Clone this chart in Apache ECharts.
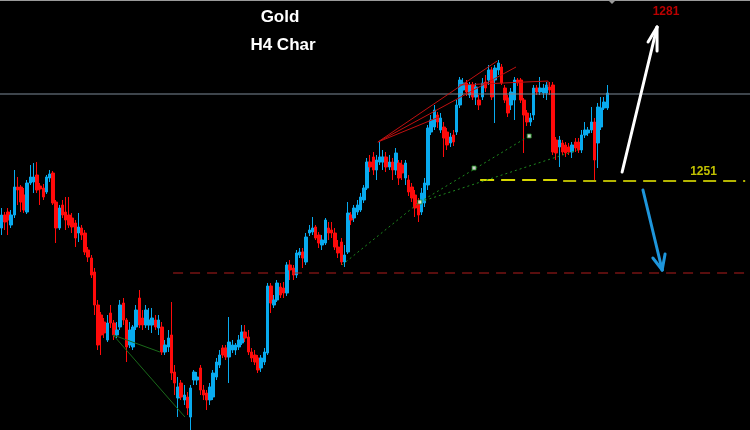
<!DOCTYPE html>
<html>
<head>
<meta charset="utf-8">
<script src="https://cdn.jsdelivr.net/npm/echarts@6/dist/echarts.min.js"></script>
<style>html,body{margin:0;padding:0;background:#000;}#c{width:750px;height:430px;}</style>
</head>
<body>
<div id="c"></div>
<script>
// Gold H4 candles: [open, close, low, high]
const ohlc = [
[1241.4,1244,1240,1245.4],[1244,1242.6,1241,1244.6],[1244.6,1243,1240,1245.4],[1242,1244,1241.4,1245],
[1244,1249.6,1243.4,1253],[1249.6,1249,1246,1251.6],[1249.6,1246.6,1244.6,1250],[1248,1245,1244.4,1249.4],
[1244.6,1250.4,1244.2,1251],[1250.4,1251.6,1250,1254],[1250.6,1251.6,1248.4,1254.4],[1252,1249,1248.4,1254.6],
[1249.8,1249.2,1246,1250.4],[1249.4,1247.6,1247,1250.2],[1248.6,1251.6,1248.2,1252],[1251.4,1252.2,1250.6,1253],
[1252.4,1246.4,1246,1252.8],[1246.6,1241.4,1238.4,1247],[1241.4,1245.4,1241,1246],[1246,1244,1243.4,1247],
[1244.6,1243,1241,1247.6],[1244,1242,1241.4,1247.6],[1243.4,1241.6,1240.4,1244.4],[1242.4,1239.4,1237.6,1243],
[1240.4,1241.6,1238.6,1244.4],[1241.4,1240,1239,1242],[1240.4,1236.6,1236,1241],[1237,1235.6,1234.6,1237.6],
[1235.4,1232,1231.4,1236],[1232.6,1226,1224,1233.4],[1226,1218,1217,1227],[1224,1220,1216,1224.6],
[1222.6,1220.4,1219.4,1223.4],[1219,1222.4,1218.6,1224],[1224.4,1222.4,1221.4,1226],[1222.4,1220,1219,1223],
[1220,1221,1219.4,1222.6],[1221.6,1226,1221,1227],[1226.4,1223,1222,1227.4],[1223,1217.6,1214.6,1223.4],
[1218,1221,1217.4,1222.6],[1217.6,1221.6,1217,1222],[1221.6,1225,1221,1226],[1227.4,1222,1221.4,1229],
[1223.4,1222,1221,1225],[1222,1225,1221.4,1226],[1222,1223,1221,1225.4],[1222,1223.4,1220.4,1225.4],
[1223,1221.6,1221,1224],[1221.4,1223,1220,1224],[1221.6,1216.6,1216,1222.6],[1216.6,1218,1216,1219],
[1217.6,1219.4,1216.6,1221],[1220,1212.4,1211,1226.6],[1212.6,1210.4,1208,1214],[1207.4,1209.6,1203.6,1211.6],
[1210.4,1207.6,1207,1211],[1207,1208,1206,1210],[1207.6,1205.4,1204,1208.6],[1203.6,1209.4,1201,1210],
[1211,1212.6,1210,1213],[1211,1211.6,1210,1212.6],[1213.4,1209,1208,1214],[1209,1208,1207,1210],
[1208.4,1207,1205,1209],[1207,1209.6,1206,1210.4],[1207.6,1212.4,1207,1213],[1211.6,1214.6,1211,1215.4],
[1214,1216,1213.4,1217],[1217.4,1216,1215.4,1218],[1217.4,1215.6,1215,1218],[1215.6,1218.6,1210.4,1223.6],
[1217,1218,1216.4,1219],[1217,1218,1216,1218.4],[1217.6,1219,1217,1220],[1218.4,1220.6,1218,1222],
[1220.6,1219.4,1218.6,1222],[1219.6,1216.6,1216,1221],[1216.6,1215.4,1214.6,1217.4],[1216,1214.6,1214,1217],
[1215.4,1213,1212.4,1216],[1213.4,1215.4,1212.6,1216],[1214.6,1216.6,1214,1217.4],[1216.4,1229.8,1216,1230.4],
[1229.8,1226.4,1224.4,1230.4],[1226,1227,1225.4,1228],[1227,1230.4,1226.6,1231],[1229.6,1228,1227.4,1230.4],
[1229.4,1228.4,1227.4,1230.6],[1228.4,1234,1227.8,1234.6],[1234,1233,1231,1235],[1233.4,1232,1231,1234],
[1232,1236.4,1231.4,1237],[1236,1236.6,1235.4,1237.4],[1236.6,1235.4,1233.4,1237.4],[1234.6,1239.6,1234,1240.4],
[1240.4,1241,1239.8,1242],[1240.6,1241.4,1240,1243.6],[1241.6,1239.4,1239,1242],[1240,1238.4,1237.4,1240.6],
[1238,1239,1237,1240],[1238.4,1243,1238,1243.4],[1241.4,1240.4,1239,1242.6],[1241,1240.4,1239.4,1242.6],
[1240.4,1237.6,1237,1241.4],[1237.6,1236.4,1235.4,1239],[1238.6,1234.6,1234,1239.4],[1234.6,1236,1233.6,1238],
[1236.6,1244.4,1236.2,1246.6],[1244,1243,1242,1244.6],[1243.4,1245.4,1242.6,1246],[1244.6,1246,1244,1247],
[1245,1247.6,1244.6,1248.4],[1247,1249.4,1246.4,1250],[1249.4,1254.6,1249,1255.4],[1254.6,1253.6,1252.6,1256],
[1255.6,1253,1252,1256.6],[1253,1255,1251,1256],[1254.6,1255.6,1254,1258.6],[1254.6,1255.6,1253,1257],
[1255.6,1253.6,1252.6,1256.6],[1253.6,1254.6,1253,1256],[1254.6,1253,1251,1255.4],[1253,1256.4,1252,1257.4],
[1254.4,1251.4,1250,1255],[1254,1252.4,1251,1255],[1251.4,1254.4,1250,1255],[1251,1248.6,1247.8,1252],
[1249.6,1247.4,1246.6,1250.4],[1248,1245.4,1243.6,1249],[1246.4,1244,1242.6,1247.4],[1244.6,1248.4,1244,1249.4],
[1246.4,1250.4,1245.6,1251.4],[1250,1261.4,1249,1262],[1260.6,1263,1260,1264],[1261.6,1265,1261,1266],
[1264,1262.6,1261.4,1264.6],[1261,1263.4,1260.4,1264.4],[1261.6,1259.4,1255.6,1262.6],[1260.6,1258,1257,1261.4],
[1258.4,1259.6,1257.6,1260.4],[1260,1258.6,1257.8,1261],[1260.6,1266,1260,1267],[1266,1271,1265.4,1271.6],
[1269,1270.4,1268,1271.4],[1270.4,1268.6,1267.8,1271],[1268,1270,1267.4,1270.6],[1270,1267.6,1267,1270.6],
[1267.6,1269.6,1266,1270.4],[1267,1266,1265,1268],[1267.6,1270.4,1267,1271.4],[1270.6,1269.4,1268.6,1272],
[1271,1273,1270,1274],[1273,1267.6,1267,1273.6],[1271,1273.4,1262.4,1274],[1273,1274.4,1272,1275],
[1273.6,1270.4,1270,1274.2],[1269.4,1267,1266.4,1270],[1267.4,1264.4,1263.6,1268],[1266,1268.6,1265,1269.4],
[1267,1271,1263,1271.6],[1271,1270.4,1269.8,1271.4],[1271,1267,1266.4,1271.4],[1267,1264,1256.4,1267.4],
[1264.4,1262.6,1261.8,1265],[1262.6,1263.4,1261.8,1264.4],[1264,1269.4,1263,1270],[1269.4,1268.6,1268,1270],
[1268.6,1269.4,1268,1271.6],[1268.4,1269.4,1267.4,1270.2],[1268.4,1270,1267,1270.6],[1269.6,1269,1268,1270.6],
[1270,1256.6,1256,1270.6],[1259,1256.4,1255,1259.6],[1257.6,1259,1253.6,1259.8],[1258.4,1256.6,1256,1259],
[1258,1256.4,1255.6,1258.6],[1257.6,1256.6,1256,1258.4],[1256.6,1258,1255.4,1258.6],[1258.6,1257.4,1256.6,1259.4],
[1258.6,1257,1256.4,1259.4],[1257,1260,1256.4,1261],[1260,1261,1259.4,1262.6],[1260.4,1261,1259.8,1261.6],
[1261,1262.6,1260.4,1265.6],[1262.6,1255,1251,1263.4],[1258.4,1265.6,1253.4,1266.4],[1261.6,1265.4,1261,1267.6],
[1265.4,1266.6,1265,1267.6],[1265.4,1268.4,1265,1270]
];
const slotCount = 234;               // candle slots across the window (incl. empty future space)
const categories = Array.from({length: slotCount}, (_, i) => String(i));

// annotation levels and drawings [slotIndex, price]
const grayLevel = 1268.2;
const redDashLine = [[53.5,1232.4],[232,1232.4]];
const yellowLineA = [[149.3,1251],[175.2,1251]];
const yellowLineB = [[175.2,1250.8],[232,1250.8]];
const redFan = [
  [[117.4,1258.6],[154.6,1274.8]],
  [[117.4,1258.6],[160.5,1273.6]],
  [[117.4,1258.6],[136.5,1263.6]],
  [[142.7,1270],[170.5,1270.8]],
  [[170.5,1270.8],[170.5,1269.6]]
];
const greenDotted = [
  [[106.2,1234],[130.5,1246.6]],
  [[130.5,1246.6],[164.6,1259.8]],
  [[130.5,1246.6],[179.8,1257]]
];
const pivotMarks = [[130.5,1246.6],[147.4,1253.4],[164.6,1259.8]];
const greenSolid = [
  [[34.8,1220],[49.4,1216.6]],
  [[34.8,1220],[57.2,1203.6]]
];
const whiteArrow = [
  [[193.6,1252.6],[204.5,1281.6]],
  [[204.5,1281.6],[201.7,1278.6]],
  [[204.5,1281.6],[204.5,1276.8]]
];
const blueArrow = [
  [[200.1,1249],[206.1,1233]],
  [[206.1,1233],[203.2,1235.4]],
  [[206.1,1233],[207,1236.2]]
];
const targetLabels = [
  {text: '1281', pos: [207.3,1284.7], color: '#e80000'},
  {text: '1251', pos: [219,1252.7], color: '#f0f000'}
];

function seg(data, style) {
  return {type: 'line', xAxisIndex: 1, yAxisIndex: 0, data: data, symbol: 'none',
    silent: true, animation: false, lineStyle: style, z: 3};
}

const series = [{
  type: 'candlestick',
  xAxisIndex: 0, yAxisIndex: 0,
  data: ohlc,
  barWidth: 3,
  itemStyle: {color: '#08aaee', color0: '#ff0a0a', borderColor: '#08aaee', borderColor0: '#ff0a0a', borderWidth: 1},
  silent: true, animation: false, z: 2
}];
series.push(seg([[-0.5, grayLevel],[233.5, grayLevel]], {color: '#7d8a98', width: 1}));
series.push(seg(redDashLine, {color: '#b01c1c', width: 1, type: [10, 7]}));
series.push(seg(yellowLineA, {color: '#d8d800', width: 2, type: [14, 7]}));
series.push(seg(yellowLineB, {color: '#b4b400', width: 2, type: [13, 7]}));
redFan.forEach(s => series.push(seg(s, {color: '#c01010', width: 1})));
greenDotted.forEach(s => series.push(seg(s, {color: '#1e8a1e', width: 1, type: [2, 3]})));
greenSolid.forEach(s => series.push(seg(s, {color: '#1a6a1a', width: 1})));
whiteArrow.forEach(s => series.push(seg(s, {color: '#ffffff', width: 3, cap: 'round'})));
blueArrow.forEach(s => series.push(seg(s, {color: '#1e96dc', width: 3, cap: 'round'})));
series.push({
  type: 'scatter', xAxisIndex: 1, yAxisIndex: 0, data: pivotMarks, symbol: 'rect', symbolSize: 4,
  itemStyle: {color: '#ffffff', borderColor: '#1e8a1e', borderWidth: 1}, silent: true, animation: false, z: 4
});
series.push({
  type: 'scatter', xAxisIndex: 1, yAxisIndex: 0, symbolSize: 1, silent: true, animation: false, z: 5,
  itemStyle: {color: 'rgba(0,0,0,0)'},
  data: targetLabels.map(t => ({value: t.pos, label: {show: true, formatter: t.text, color: t.color,
    position: 'inside', fontFamily: 'Liberation Sans', fontWeight: 'bold', fontSize: 12}}))
});

const chart = echarts.init(document.getElementById('c'), null, {renderer: 'canvas'});
chart.setOption({
  backgroundColor: '#000000',
  animation: false,
  grid: {left: 0, right: 0, top: 0, bottom: 0},
  xAxis: [
    {type: 'category', data: categories, show: false, boundaryGap: true},
    {type: 'value', min: -0.5, max: 233.5, show: false}
  ],
  yAxis: {type: 'value', min: 1201, max: 1287, show: false, splitLine: {show: false}, scale: true},
  graphic: [
    {type: 'rect', shape: {x: 0, y: 0, width: 750, height: 1}, style: {fill: '#9a9a9a'}, z: 10},
    {type: 'polygon', shape: {points: [[608,0],[616,0],[612,4]]}, style: {fill: '#9a9a9a'}, z: 10},
    {type: 'text', x: 280, y: 17, z: 10, style: {text: 'Gold', fill: '#ffffff', font: 'bold 17px "Liberation Sans", Arial, sans-serif', align: 'center', verticalAlign: 'middle'}},
    {type: 'text', x: 283, y: 45, z: 10, style: {text: 'H4 Char', fill: '#ffffff', font: 'bold 17px "Liberation Sans", Arial, sans-serif', align: 'center', verticalAlign: 'middle'}}
  ],
  series: series
});
</script>
</body>
</html>
